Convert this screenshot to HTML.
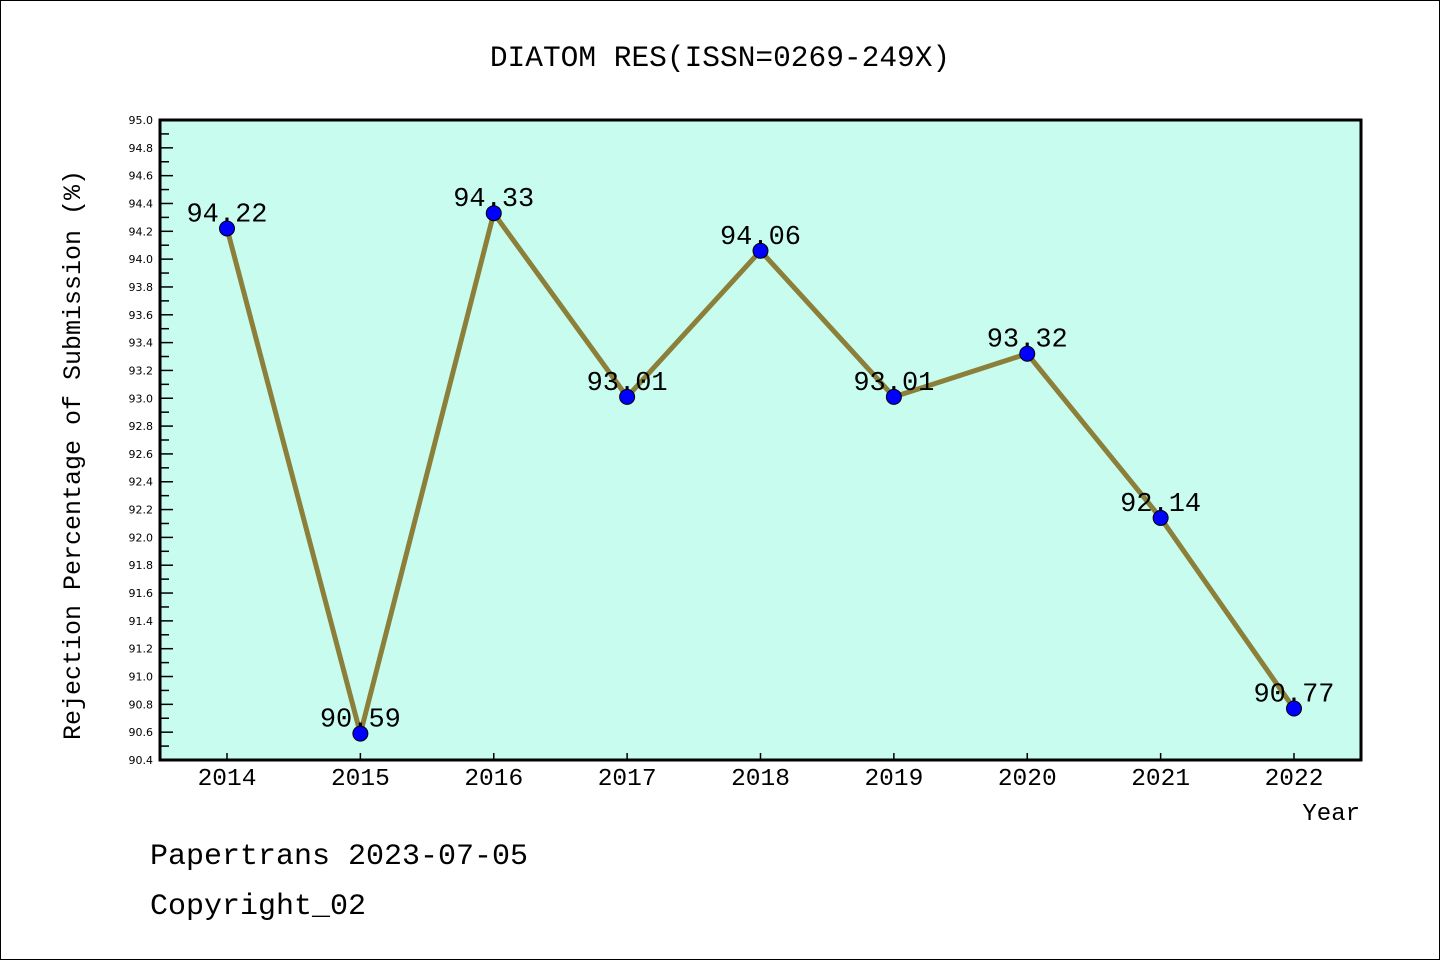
<!DOCTYPE html>
<html><head><meta charset="utf-8"><style>
body{margin:0;background:#fff}
svg{display:block}
text{font-family:"Liberation Mono","DejaVu Sans Mono",monospace;fill:#000}
</style></head><body>
<svg width="1440" height="960" id="c">
<rect x="0.5" y="0.5" width="1439" height="959" fill="#fff" stroke="#000"/>
<text x="720" y="66" font-size="29.5" text-anchor="middle">DIATOM RES(ISSN=0269-249X)</text>
<rect x="160" y="120" width="1201" height="640" fill="#c8fcee"/>
<g id="g"></g>
<rect x="160" y="120" width="1201" height="640" fill="none" stroke="#000" stroke-width="3"/>
<text transform="translate(80,455) rotate(-90)" font-size="25" text-anchor="middle">Rejection Percentage of Submission (%)</text>
<text x="1360" y="820" font-size="24" text-anchor="end">Year</text>
<text x="150" y="864" font-size="30">Papertrans 2023-07-05</text>
<text x="150" y="914" font-size="30">Copyright_02</text>
</svg>
<script>
const years=["2014","2015","2016","2017","2018","2019","2020","2021","2022"];
const values=[94.22,90.59,94.33,93.01,94.06,93.01,93.32,92.14,90.77];
const yMin=90.4,yMax=95.0;
const ns="http://www.w3.org/2000/svg",g=document.getElementById('g');
const X=i=>227+i*(1294-227)/(years.length-1);
const Y=v=>760-(v-yMin)/(yMax-yMin)*640;
function mk(t,a){const e=document.createElementNS(ns,t);for(const k in a)e.setAttribute(k,a[k]);g.appendChild(e);return e;}
for(let k=0;k<=46;k++){const v=yMin+k*0.1,y=Y(v),maj=k%2===0;
const t=mk('line',{x1:160,x2:160+(maj?13:9),y1:y,y2:y,stroke:'#000','stroke-width':1.5});


if(maj){const l=mk('text',{x:153,y:y+4,'font-size':11,'text-anchor':'end','style':'font-family:"DejaVu Sans","Liberation Sans",sans-serif'});l.textContent=v.toFixed(1);

}}
years.forEach((yr,i)=>{const x=X(i);
const t=mk('line',{x1:x,x2:x,y1:760,y2:753,stroke:'#000','stroke-width':1.5});


const l=mk('text',{x:x,y:785,'font-size':24.5,'text-anchor':'middle'});l.textContent=yr;

});
const p=mk('polyline',{points:values.map((v,i)=>X(i)+','+Y(v)).join(' '),fill:'none',stroke:'#8c7f3a','stroke-width':5,'stroke-linejoin':'round'});


values.forEach((v,i)=>{
const c=mk('circle',{cx:X(i),cy:Y(v),r:7.5,fill:'#0000ff',stroke:'#000','stroke-width':1});


const l=mk('text',{x:X(i),y:Y(v)-7,'font-size':27,'text-anchor':'middle'});l.textContent=v.toFixed(2);

});
</script>
</body></html>
